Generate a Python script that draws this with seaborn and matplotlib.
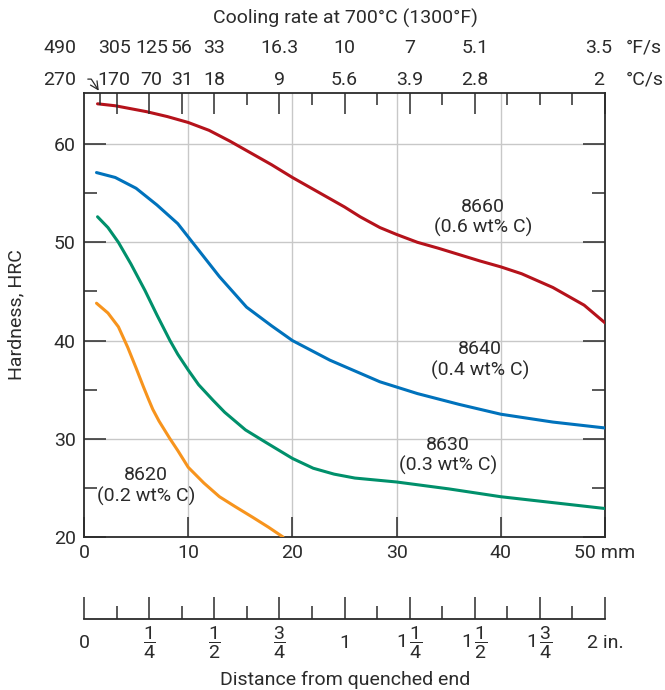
"""Jominy end-quench hardenability curves for 86xx steels."""
import matplotlib
matplotlib.use("Agg")
import matplotlib.pyplot as plt
import matplotlib.transforms as mtransforms
from matplotlib.ticker import FixedLocator, FixedFormatter
import pandas as pd
import seaborn as sns

# hardness curves (distance in mm, HRC)
mm_8660 = [1.3, 3, 6, 8, 10, 12, 14, 16, 18, 20, 22.5, 25, 26.5, 28.4, 30, 32, 34,
           38, 40, 42, 45, 48, 50]
hrc_8660 = [64.1, 63.9, 63.3, 62.8, 62.2, 61.4, 60.3, 59.1, 57.9, 56.6, 55.1, 53.6,
            52.6, 51.5, 50.8, 50.0, 49.4, 48.1, 47.5, 46.8, 45.4, 43.6, 41.8]

mm_8640 = [1.2, 3, 5, 7, 9, 11, 13, 15.6, 18, 20, 23.6, 28.4, 32, 36, 40, 45, 50]
hrc_8640 = [57.1, 56.6, 55.5, 53.8, 51.9, 49.2, 46.5, 43.4, 41.5, 40.0, 38.0, 35.8,
            34.6, 33.5, 32.5, 31.7, 31.1]

mm_8630 = [1.3, 2.3, 3.3, 4.5, 5.85, 7, 8.25, 9, 10, 11, 12.4, 13.5, 15.5, 17.5, 20,
           22, 24, 26, 30, 35, 40, 45, 50]
hrc_8630 = [52.6, 51.5, 50.0, 47.8, 45.1, 42.6, 40.0, 38.6, 37.0, 35.5, 33.9, 32.7,
            30.9, 29.6, 28.0, 27.0, 26.4, 26.0, 25.6, 24.9, 24.1, 23.5, 22.9]

mm_8620 = [1.2, 2.3, 3.3, 4.2, 5, 5.7, 6.2, 6.6, 7.2, 8.25, 9, 10, 11.5, 13, 14.5,
           16.2, 17.7, 19.1]
hrc_8620 = [43.8, 42.8, 41.4, 39.3, 37.2, 35.3, 34.0, 33.0, 31.8, 30.0, 28.8, 27.1,
            25.5, 24.1, 23.1, 22.0, 21.0, 20.0]

STEELS = ["8660", "8640", "8630", "8620"]
CARBON = ["0.6", "0.4", "0.3", "0.2"]
COLORS = ["#b5121b", "#0072bc", "#00906b", "#f7941d"]
LABEL_POS = [(38.3, 52.55), (38.0, 38.0), (34.9, 28.3), (5.95, 25.2)]

# cooling rate scale (top), positions in inches from quenched end
rate_in = [1 / 16, 1 / 8, 1 / 4, 3 / 8, 1 / 2, 3 / 4, 1, 5 / 4, 3 / 2, 2]
rate_F = ["490", "305", "125", "56", "33", "16.3", "10", "7", "5.1", "3.5"]
rate_C = ["270", "170", "70", "31", "18", "9", "5.6", "3.9", "2.8", "2"]
minor_in = [5 / 8, 7 / 8, 9 / 8, 11 / 8, 13 / 8, 7 / 4, 15 / 8]
# where the rate labels sit (mm), nudged a bit where they crowd
rate_lab_mm = [-2.3, 2.9, 6.5, 9.4, 12.5, 18.75, 25, 31.25, 37.5, 49.4]

# inch scale (bottom)
inch_ticks = [0, 0.25, 0.5, 0.75, 1, 1.25, 1.5, 1.75, 2]
inch_labels = ["0", r"$\dfrac{1}{4}$", r"$\dfrac{1}{2}$", r"$\dfrac{3}{4}$", "1",
               r"$1\,\dfrac{1}{4}$", r"$1\,\dfrac{1}{2}$", r"$1\,\dfrac{3}{4}$", "2 in."]
mm_ticks = [0, 10, 20, 30, 40, 50]
mm_labels = ["0", "10", "20", "30", "40", "50 mm"]

MM_PER_IN = 25.0  # chart maps 2 in onto 50 mm
TXT = "#2b2b2b"
FS = 14

sns.set_style("ticks")
plt.rcParams["font.family"] = ["Roboto", "DejaVu Sans"]
plt.rcParams["mathtext.fontset"] = "custom"
plt.rcParams["mathtext.rm"] = "Roboto"
plt.rcParams["mathtext.it"] = "Roboto"
plt.rcParams["font.size"] = FS
plt.rcParams["text.color"] = TXT
plt.rcParams["axes.labelcolor"] = TXT
plt.rcParams["xtick.color"] = TXT
plt.rcParams["ytick.color"] = TXT

frames = []
for steel, xs, ys in zip(STEELS, [mm_8660, mm_8640, mm_8630, mm_8620],
                         [hrc_8660, hrc_8640, hrc_8630, hrc_8620]):
    frames.append(pd.DataFrame({"mm": xs, "hrc": ys, "steel": steel}))
df = pd.concat(frames, ignore_index=True)

W, H = 665, 690
fig = plt.figure(figsize=(W / 100, H / 100), dpi=100)
x0, x1, y0, y1 = 84, 605, 93, 537
ax = fig.add_axes([x0 / W, 1 - y1 / H, (x1 - x0) / W, (y1 - y0) / H])

ax.grid(False)
for v in [10, 20, 30, 40]:
    ax.axvline(v, color="#c8c8c8", lw=1, zorder=0)
for v in [30, 40, 50, 60]:
    ax.axhline(v, color="#c8c8c8", lw=1, zorder=0)

sns.lineplot(data=df, x="mm", y="hrc", hue="steel", hue_order=STEELS,
             palette=dict(zip(STEELS, COLORS)), sort=False, estimator=None,
             lw=2.2, legend=False, ax=ax, zorder=3)

ax.set_xlim(0, 50)
ax.set_ylim(20, 65.2)
for side in ["left", "right", "top", "bottom"]:
    ax.spines[side].set_visible(True)
    ax.spines[side].set_color(TXT)
    ax.spines[side].set_linewidth(1.3)

ax.xaxis.set_major_locator(FixedLocator(mm_ticks))
ax.xaxis.set_major_formatter(FixedFormatter(mm_labels))
ax.tick_params(axis="x", direction="in", length=14.5, width=1.1, pad=5, labelsize=FS)
ax.set_yticks([20, 30, 40, 50, 60])
ax.set_yticks([25, 35, 45, 55], minor=True)
ax.tick_params(axis="y", which="major", direction="in", length=16, width=1.1,
               left=True, right=True, pad=6, labelsize=FS)
ax.tick_params(axis="y", which="minor", direction="in", length=9.4, width=1.1,
               left=True, right=True)
ax.set_xlabel("")
ax.set_ylabel("Hardness, HRC", fontsize=FS)
ax.yaxis.set_label_coords(-0.112, 0.5)

for (lx, ly), steel, c in zip(LABEL_POS, STEELS, CARBON):
    ax.text(lx, ly, f"{steel}\n({c} wt% C)", ha="center", va="center",
            fontsize=FS, linespacing=1.15, zorder=4)

# top axis: cooling-rate ticks
top = ax.twiny()
top.set_xlim(0, 50)
top.xaxis.set_major_locator(FixedLocator([v * MM_PER_IN for v in rate_in[1:]]))
top.xaxis.set_minor_locator(FixedLocator([v * MM_PER_IN for v in [rate_in[0]] + minor_in]))
top.tick_params(axis="x", which="major", direction="in", length=15, width=1.1, labeltop=False)
top.tick_params(axis="x", which="minor", direction="in", length=8.6, width=1.1)
for s in top.spines.values():
    s.set_visible(False)

trans = mtransforms.blended_transform_factory(ax.transData, fig.transFigure)
for x, f, c in zip(rate_lab_mm, rate_F, rate_C):
    fig.text(x, 1 - 48 / H, f, ha="center", va="center", transform=trans, fontsize=FS)
    fig.text(x, 1 - 80 / H, c, ha="center", va="center", transform=trans, fontsize=FS)
fig.text(626 / W, 1 - 48 / H, "°F/s", ha="left", va="center", fontsize=FS)
fig.text(626 / W, 1 - 80 / H, "°C/s", ha="left", va="center", fontsize=FS)
fig.text(345 / W, 1 - 18 / H, "Cooling rate at 700°C (1300°F)", ha="center",
         va="center", fontsize=FS)
ax.annotate("", xy=(rate_in[0] * MM_PER_IN, 65.2), xycoords="data",
            xytext=(-11, 10), textcoords="offset points",
            arrowprops=dict(arrowstyle="->", color=TXT, lw=0.9,
                            connectionstyle="angle,angleA=0,angleB=123,rad=0"),
            annotation_clip=False)

# bottom inch scale
ax_in = fig.add_axes([x0 / W, 1 - 619 / H, (x1 - x0) / W, 0.03])
ax_in.set_xlim(0, 2)
ax_in.set_yticks([])
for side in ["left", "right", "top"]:
    ax_in.spines[side].set_visible(False)
ax_in.spines["bottom"].set_color(TXT)
ax_in.spines["bottom"].set_linewidth(1.3)
ax_in.set_facecolor("none")
ax_in.xaxis.set_major_locator(FixedLocator(inch_ticks))
ax_in.xaxis.set_major_formatter(FixedFormatter(inch_labels))
ax_in.xaxis.set_minor_locator(FixedLocator([0.125, 0.375, 0.625, 0.875, 1.125, 1.375, 1.625, 1.875]))
ax_in.tick_params(axis="x", which="major", direction="in", length=16, width=1.1,
                  pad=17, labelsize=FS)
ax_in.tick_params(axis="x", which="minor", direction="in", length=9.4, width=1.1)
for lab in ax_in.get_xticklabels():
    lab.set_va("center")

fig.text(345 / W, 1 - 680 / H, "Distance from quenched end", ha="center",
         va="center", fontsize=FS)

fig.savefig("out.png", dpi=100)
